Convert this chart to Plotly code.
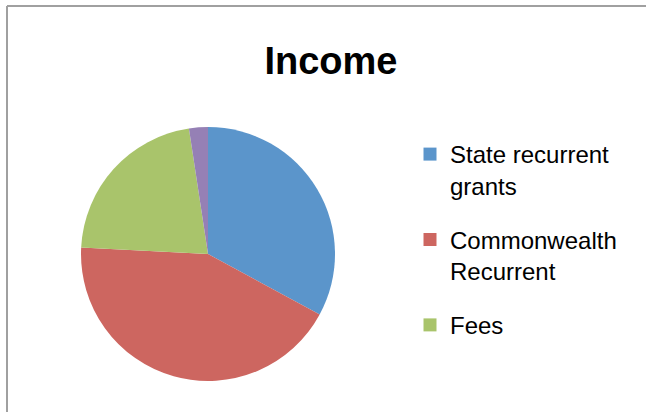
import plotly.graph_objects as go

labels = ["State recurrent grants", "Commonwealth Recurrent", "Fees", "Other"]
legend_labels = ["State recurrent<br>grants", "Commonwealth<br>Recurrent", "Fees"]
values = [32.9, 42.9, 21.8, 2.4]
colors = ["#5B95CB", "#CD6660", "#A9C46B", "#9580B5"]

W, H = 646, 412
fig = go.Figure()
fig.add_trace(go.Pie(
    labels=labels, values=values, sort=False, direction="clockwise", rotation=0,
    marker=dict(colors=colors, line=dict(width=0)), textinfo="none",
    showlegend=False, hoverinfo="label+value",
    domain=dict(x=[81 / W, 335 / W], y=[31 / H, 285 / H]),
))
for i, name in enumerate(legend_labels):
    fig.add_trace(go.Scatter(
        x=[None], y=[None], mode="markers", name=name, legendgroup=str(i),
        marker=dict(symbol="square", size=13, color=colors[i]),
    ))

fig.update_layout(
    width=W, height=H, margin=dict(l=0, r=0, t=0, b=0),
    paper_bgcolor="white", plot_bgcolor="white",
    xaxis=dict(visible=False), yaxis=dict(visible=False),
    title=dict(text="<b>Income</b>", x=331 / W, xanchor="center", y=1 - 61 / H, yanchor="middle",
               font=dict(family="Liberation Sans, Arial", size=38, color="black")),
    legend=dict(x=410 / W, y=1 - 132 / H, xanchor="left", yanchor="top",
                font=dict(family="Liberation Sans, Arial", size=24, color="black"),
                traceorder="grouped", tracegroupgap=20, valign="top",
                bgcolor="rgba(0,0,0,0)", itemwidth=30),
    shapes=[
        dict(type="line", xref="paper", yref="paper", x0=7 / W, x1=1, y0=1 - 6 / H, y1=1 - 6 / H,
             line=dict(color="#A0A0A0", width=2)),
        dict(type="line", xref="paper", yref="paper", x0=7 / W, x1=7 / W, y0=0, y1=1 - 6 / H,
             line=dict(color="#A0A0A0", width=2)),
    ],
)
fig.write_html("out.html", config={"displayModeBar": False},
               post_script="document.body.style.margin='0';")
